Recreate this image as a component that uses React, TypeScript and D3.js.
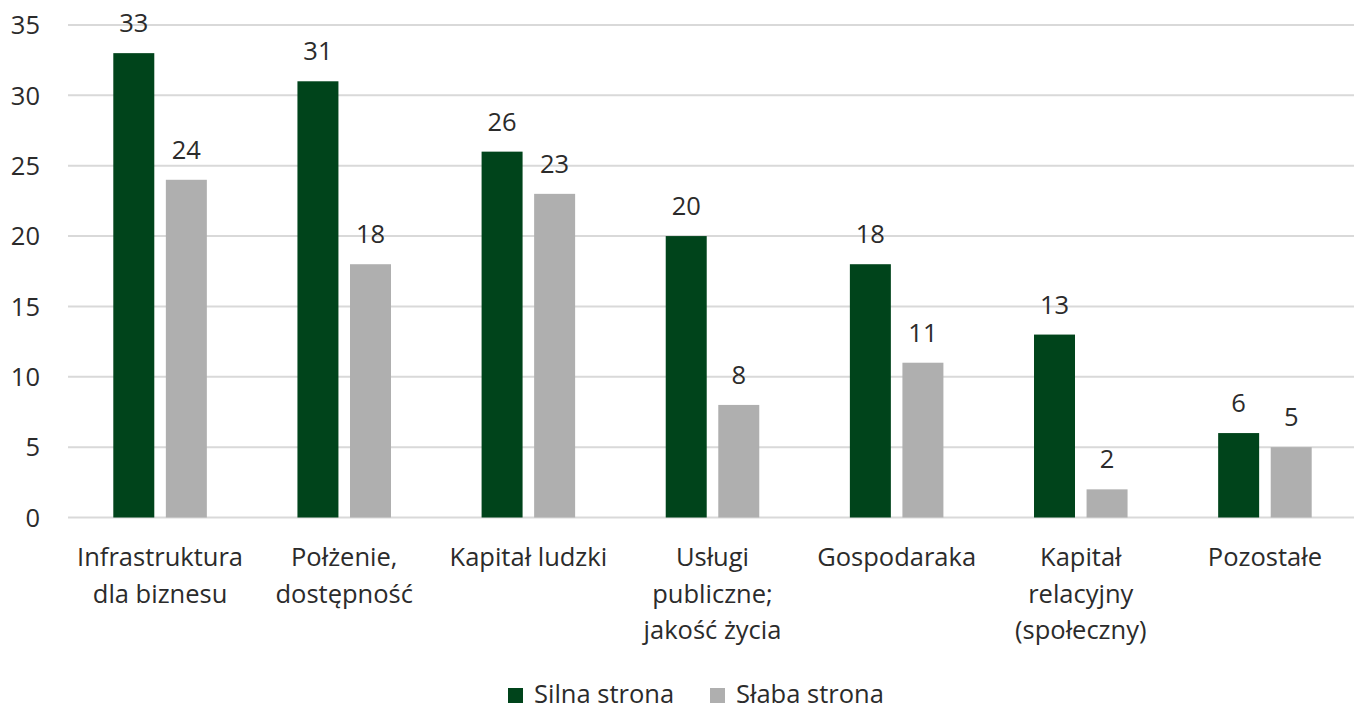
import React, { useEffect, useRef } from 'react';
import * as d3 from 'd3';

const categories = [
  'Infrastruktura\ndla biznesu',
  'Połżenie,\ndostępność',
  'Kapitał ludzki',
  'Usługi\npubliczne;\njakość życia',
  'Gospodaraka',
  'Kapitał\nrelacyjny\n(społeczny)',
  'Pozostałe',
];
const seriesNames = ['Silna strona', 'Słaba strona'];
const silna = [33, 31, 26, 20, 18, 13, 6];
const slaba = [24, 18, 23, 8, 11, 2, 5];
const yTicks = [0, 5, 10, 15, 20, 25, 30, 35];
const colors = ['#00441b', '#afafaf'];

const App: React.FC = () => {
  const svgRef = useRef<SVGSVGElement>(null);

  useEffect(() => {
    if (!svgRef.current) return;
    const width = 1354;
    const height = 710;
    const margin = { top: 25, right: -3, bottom: 192.5, left: 68 };
    const font = '"Open Sans", sans-serif';
    const fs = 25.5;
    const textColor = '#2b2b2b';

    const svg = d3.select(svgRef.current);
    svg.selectAll('*').remove();

    const x0 = d3.scaleBand<string>()
      .domain(categories)
      .range([margin.left, width - margin.right])
      .paddingInner(0.492)
      .paddingOuter(0.246);

    const x1 = d3.scaleBand<string>()
      .domain(seriesNames)
      .range([0, x0.bandwidth()])
      .paddingInner(0.22);

    const y = d3.scaleLinear()
      .domain([0, 35])
      .range([height - margin.bottom, margin.top]);

    // Grid
    svg.append('g')
      .selectAll('line')
      .data(yTicks)
      .join('line')
      .attr('x1', margin.left)
      .attr('x2', width)
      .attr('y1', d => y(d))
      .attr('y2', d => y(d))
      .attr('stroke', '#d9d9d9')
      .attr('stroke-width', 2);

    // Y labels
    svg.append('g')
      .selectAll('text')
      .data(yTicks)
      .join('text')
      .attr('x', 40)
      .attr('y', d => y(d))
      .attr('dy', '0.36em')
      .attr('text-anchor', 'end')
      .attr('font-family', font)
      .attr('font-size', fs)
      .attr('fill', textColor)
      .text(d => d);

    const data = categories.map((c, i) => ({ c, vals: [silna[i], slaba[i]] }));

    const groups = svg.append('g')
      .selectAll('g')
      .data(data)
      .join('g')
      .attr('transform', d => `translate(${x0(d.c)},0)`);

    groups.selectAll('rect')
      .data(d => d.vals.map((v, j) => ({ v, s: seriesNames[j], j })))
      .join('rect')
      .attr('x', d => x1(d.s)!)
      .attr('width', x1.bandwidth())
      .attr('y', d => y(d.v))
      .attr('height', d => y(0) - y(d.v))
      .attr('fill', d => colors[d.j]);

    groups.selectAll('text.val')
      .data(d => d.vals.map((v, j) => ({ v, s: seriesNames[j] })))
      .join('text')
      .attr('class', 'val')
      .attr('x', d => x1(d.s)! + x1.bandwidth() / 2)
      .attr('y', d => y(d.v) - 21)
      .attr('text-anchor', 'middle')
      .attr('font-family', font)
      .attr('font-size', fs)
      .attr('fill', textColor)
      .text(d => d.v);

    // Category labels
    const catText = svg.append('g')
      .selectAll('text')
      .data(categories)
      .join('text')
      .attr('x', d => x0(d)! + x0.bandwidth() / 2)
      .attr('y', 566)
      .attr('text-anchor', 'middle')
      .attr('font-family', font)
      .attr('font-size', fs)
      .attr('fill', textColor);

    catText.each(function (d) {
      const t = d3.select(this);
      const cx = x0(d)! + x0.bandwidth() / 2;
      d.split('\n').forEach((line, i) => {
        t.append('tspan')
          .attr('x', cx)
          .attr('dy', i === 0 ? 0 : 36.5)
          .text(line);
      });
    });

    // Legend
    const legendX = [508, 710];
    const legend = svg.append('g')
      .selectAll('g')
      .data(seriesNames)
      .join('g')
      .attr('transform', (_, i) => `translate(${legendX[i]},688)`);

    legend.append('rect')
      .attr('width', 15)
      .attr('height', 15)
      .attr('fill', (_, i) => colors[i]);

    legend.append('text')
      .attr('x', 26)
      .attr('y', 15)
      .attr('font-family', font)
      .attr('font-size', fs)
      .attr('fill', textColor)
      .text(d => d);
  }, []);

  return (
    <svg
      ref={svgRef}
      width={1354}
      height={710}
      style={{ position: 'absolute', left: 0, top: 0, background: '#fff' }}
    />
  );
};

export default App;
